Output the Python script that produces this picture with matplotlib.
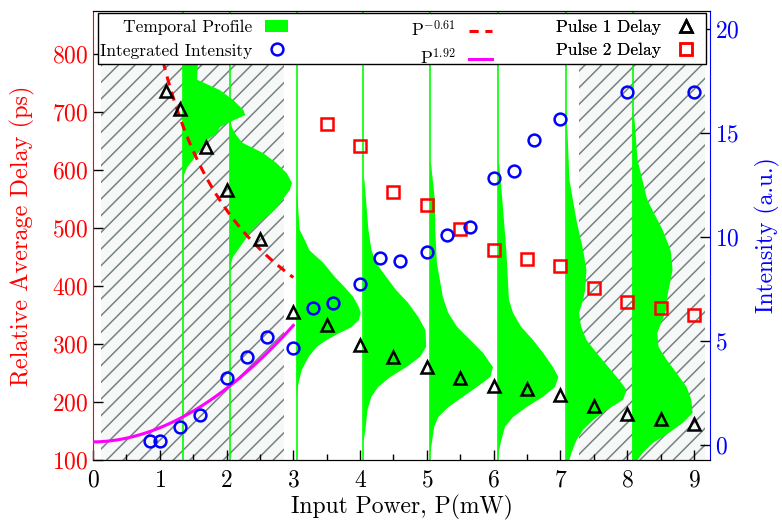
import numpy as np
import matplotlib
matplotlib.use("Agg")
import matplotlib.pyplot as plt
from matplotlib.patches import Rectangle, Patch
from matplotlib.lines import Line2D

plt.rcParams['font.family'] = ['cmr10', 'DejaVu Serif']
plt.rcParams['mathtext.fontset'] = 'cm'
plt.rcParams['axes.formatter.use_mathtext'] = True
plt.rcParams['axes.unicode_minus'] = False
plt.rcParams['hatch.linewidth'] = 1.1

# ---------------- data ----------------
# Pulse 1 delay (triangles)
p1_power = [1.1, 1.3, 1.7, 2.0, 2.5, 3.0, 3.5, 4.0, 4.5, 5.0, 5.5, 6.0, 6.5, 7.0, 7.5, 8.0, 8.5, 9.0]
p1_delay = [737, 705, 640, 565, 481, 356, 332, 298, 278, 260, 241, 227, 222, 212, 193, 179, 170, 162]

# Pulse 2 delay (squares)
p2_power = [3.5, 4.0, 4.5, 5.0, 5.5, 6.0, 6.5, 7.0, 7.5, 8.0, 8.5, 9.0]
p2_delay = [680, 642, 563, 540, 498, 463, 446, 435, 396, 373, 362, 350]

# Integrated intensity (circles, right axis)
int_power = [0.85, 1.0, 1.3, 1.6, 2.0, 2.3, 2.6, 3.0, 3.3, 3.6, 4.0, 4.3, 4.6,
             5.0, 5.3, 5.65, 6.0, 6.3, 6.6, 7.0, 8.0, 9.0]
int_value = [0.2, 0.21, 0.85, 1.44, 3.21, 4.25, 5.21, 4.68, 6.58, 6.85, 7.75, 8.98, 8.87,
             9.3, 10.1, 10.5, 12.85, 13.2, 14.7, 15.7, 17.0, 17.0]

# fit exponents / coefficients
fit1_exp = -0.61
fit1_coef = 811.0
fit1_range = [0.85, 3.0]
fit2_exp = 1.92
fit2_coef = 0.68
fit2_offset = 0.15
fit2_range = [0.0, 3.0]

# temporal profiles: baseline power, delays (ps), widths (power units)
prof_base = [1.35, 2.05, 3.05, 4.05, 5.05, 6.07, 7.09, 8.08]
prof1_delay = [800, 781, 756, 738, 721, 704, 695, 683, 674, 664, 652, 635, 618, 605, 592, 570]
prof1_width = [0.20, 0.22, 0.21, 0.55, 0.75, 0.90, 0.93, 0.70, 0.55, 0.51, 0.36, 0.25, 0.15, 0.06, 0.015, 0.0]
prof2_delay = [690, 674, 661, 647, 630, 612, 595, 578, 566, 549, 531, 514, 492, 467, 450, 436, 420]
prof2_width = [0.0, 0.03, 0.09, 0.19, 0.49, 0.70, 0.85, 0.93, 0.90, 0.79, 0.67, 0.49, 0.30, 0.15, 0.045, 0.01, 0.0]
prof3_delay = [560, 549, 497, 480, 462, 440, 416, 398, 381, 364, 354, 341, 329, 319, 307, 295, 278, 255, 233, 210]
prof3_width = [0.0, 0.015, 0.045, 0.12, 0.19, 0.40, 0.57, 0.72, 0.85, 0.93, 0.96, 0.93, 0.82, 0.64, 0.45, 0.30, 0.18, 0.075, 0.03, 0.0]
prof4_delay = [590, 583, 540, 497, 462, 440, 416, 393, 371, 347, 324, 295, 278, 260, 243, 226, 209, 186, 152, 130]
prof4_width = [0.0, 0.015, 0.045, 0.075, 0.12, 0.19, 0.34, 0.49, 0.67, 0.82, 0.93, 0.94, 0.85, 0.64, 0.40, 0.22, 0.12, 0.06, 0.03, 0.0]
prof5_delay = [615, 609, 549, 497, 440, 381, 354, 330, 307, 285, 260, 243, 226, 209, 191, 174, 157, 134, 110]
prof5_width = [0.0, 0.015, 0.07, 0.075, 0.10, 0.19, 0.27, 0.40, 0.60, 0.79, 0.94, 0.90, 0.70, 0.49, 0.27, 0.12, 0.06, 0.03, 0.0]
prof6_delay = [615, 609, 549, 462, 376, 354, 330, 307, 285, 260, 243, 226, 209, 191, 174, 157, 134, 110]
prof6_width = [0.0, 0.015, 0.06, 0.12, 0.16, 0.22, 0.34, 0.52, 0.67, 0.82, 0.90, 0.85, 0.67, 0.42, 0.22, 0.10, 0.045, 0.0]
prof7_delay = [680, 669, 583, 514, 462, 428, 393, 376, 354, 330, 307, 285, 260, 238, 221, 204, 186, 169, 152, 134, 112, 100]
prof7_width = [0.0, 0.015, 0.045, 0.15, 0.25, 0.30, 0.28, 0.25, 0.19, 0.22, 0.30, 0.45, 0.63, 0.79, 0.90, 0.85, 0.60, 0.40, 0.25, 0.15, 0.075, 0.045]
prof8_delay = [700, 687, 618, 549, 497, 462, 428, 393, 376, 364, 342, 319, 295, 273, 250, 226, 204, 181, 164, 147, 129, 112, 100]
prof8_width = [0.0, 0.03, 0.075, 0.22, 0.45, 0.57, 0.60, 0.54, 0.51, 0.52, 0.45, 0.37, 0.39, 0.51, 0.66, 0.81, 0.88, 0.90, 0.75, 0.55, 0.30, 0.15, 0.075]

prof_delays = [prof1_delay, prof2_delay, prof3_delay, prof4_delay,
               prof5_delay, prof6_delay, prof7_delay, prof8_delay]
prof_widths = [prof1_width, prof2_width, prof3_width, prof4_width,
               prof5_width, prof6_width, prof7_width, prof8_width]

# shaded (hatched) power ranges
hatch_ranges = [(0.12, 2.86), (7.28, 9.17)]
hatch_top = 781

# axis settings
x_lim = (0, 9.24)
y_lim = (100, 875)
y2_lim = (-0.72, 20.9)
x_ticks = [0, 1, 2, 3, 4, 5, 6, 7, 8, 9]
y_ticks = [100, 200, 300, 400, 500, 600, 700, 800]
y2_ticks = [0, 5, 10, 15, 20]

GREEN = '#00ff00'
FS = 17

fig = plt.figure(figsize=(7.82, 5.22), dpi=100)
ax = fig.add_axes([0.1189, 0.1188, 0.7890, 0.8607])
ax2 = ax.twinx()

# hatched regions
for x0, x1 in hatch_ranges:
    ax.add_patch(Rectangle((x0, y_lim[0]), x1 - x0, hatch_top - y_lim[0],
                           facecolor='#f6f8f8', edgecolor='#768282', hatch='//',
                           linewidth=0, zorder=1))

# temporal profiles
ax.vlines(prof_base, y_lim[0], y_lim[1], color=GREEN, lw=1.2, zorder=2)
for b, d, w in zip(prof_base, prof_delays, prof_widths):
    d = np.asarray(d, float)
    w = np.asarray(w, float)
    ax.fill_betweenx(d, b, b + w, facecolor=GREEN, edgecolor='none', zorder=2)

# fit P^-0.61
pf = np.linspace(fit1_range[0], fit1_range[1], 200)
ax.plot(pf, fit1_coef * pf ** fit1_exp, color='red', lw=2.2, ls=(0, (3, 2.2)), zorder=3)

# pulses
ax.plot(p1_power, p1_delay, ls='none', marker='^', ms=8.5, mfc='none', mec='black', mew=1.8, zorder=5)
ax.plot(p2_power, p2_delay, ls='none', marker='s', ms=8, mfc='none', mec='red', mew=1.8, zorder=5)

# fit P^1.92 and intensity on right axis
pf2 = np.linspace(fit2_range[0], fit2_range[1], 200)
ax2.plot(pf2, fit2_offset + fit2_coef * pf2 ** fit2_exp, color='magenta', lw=2.2, zorder=3)
ax2.plot(int_power, int_value, ls='none', marker='o', ms=8.5, mfc='none', mec='blue', mew=1.8, zorder=5)

ax.set_xlim(*x_lim)
ax.set_ylim(*y_lim)
ax2.set_ylim(*y2_lim)
ax.set_xticks(x_ticks)
ax.set_xticks(np.arange(0.5, 9.2, 1.0), minor=True)
ax.set_yticks(y_ticks)
ax2.set_yticks(y2_ticks)

ax.tick_params(axis='x', which='major', direction='in', length=7, width=1, labelsize=FS, colors='black', pad=7)
ax.tick_params(axis='x', which='minor', direction='in', length=4.5, width=1)
ax.tick_params(axis='y', which='major', direction='in', length=7, width=1, labelsize=FS, labelcolor='red', color='black')
ax2.tick_params(axis='y', which='major', direction='in', length=7, width=1, labelsize=FS, labelcolor='blue', color='black')

ax.spines['left'].set_color('red')
ax2.spines['left'].set_visible(False)
ax2.spines['right'].set_color('blue')
ax.spines['right'].set_visible(False)

ax.set_xlabel('Input Power, P(mW)', fontsize=FS, labelpad=2)
ax.set_ylabel('Relative Average Delay (ps)', fontsize=17.5, color='red', labelpad=12)
ax2.set_ylabel('Intensity (a.u.)', fontsize=FS, color='blue', labelpad=11)

# legend frame
ax2.add_patch(Rectangle((0.0086, 0.881), 0.9845, 0.113, transform=ax2.transAxes,
                        facecolor='white', edgecolor='black', lw=1.0, zorder=10))

h_green = Patch(facecolor=GREEN, edgecolor='none')
h_circ = Line2D([], [], ls='none', marker='o', ms=8.5, mfc='none', mec='blue', mew=1.8)
h_dash = Line2D([], [], color='red', lw=2.2, ls=(0, (3, 2.2)))
h_mag = Line2D([], [], color='magenta', lw=2.2)
h_tri = Line2D([], [], ls='none', marker='^', ms=8.5, mfc='none', mec='black', mew=1.8)
h_sq = Line2D([], [], ls='none', marker='s', ms=8, mfc='none', mec='red', mew=1.8)

cols = [([h_green, h_circ], ['Temporal Profile', 'Integrated Intensity'], 0.3225),
        ([h_dash, h_mag], [r'P$^{-0.61}$', r'P$^{1.92}$'], 0.653),
        ([h_tri, h_sq], ['Pulse 1 Delay', 'Pulse 2 Delay'], 0.985)]
for hs, ls_, xr in cols:
    lg = ax2.legend(hs, ls_, loc='upper right', bbox_to_anchor=(xr, 0.988),
                    bbox_transform=ax2.transAxes, frameon=False, markerfirst=False,
                    fontsize=12.5, handlelength=1.35, handletextpad=0.75, labelspacing=0.45,
                    borderaxespad=0, borderpad=0.2)
    lg.set_zorder(11)
    ax2.add_artist(lg)

fig.savefig('out.png', dpi=100)
